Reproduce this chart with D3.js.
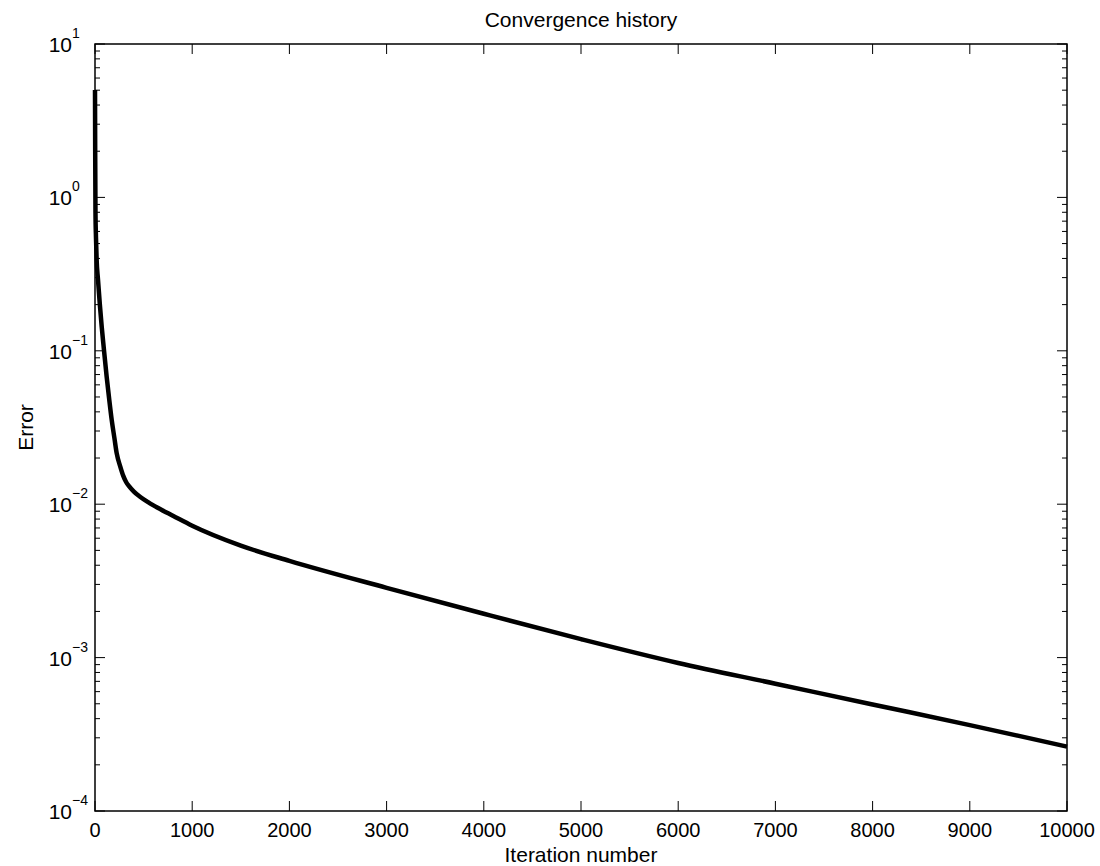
<!DOCTYPE html>
<html>
<head>
<meta charset="utf-8">
<script src="https://cdn.jsdelivr.net/npm/d3@7"></script>
<style>
  html, body { margin: 0; padding: 0; background: #fff; }
  text { font-family: "Liberation Sans", Arial, Helvetica, sans-serif; fill: #000; }
</style>
</head>
<body>
<svg id="chart" width="1100" height="866"></svg>
<script>
// ---- data ----
const iterations = [0, 2, 5, 10, 17, 30, 50, 69, 90, 120, 145, 172, 200, 223, 260, 291, 320, 350, 400, 463, 550, 650, 806, 1000, 1500, 2000, 3000, 4000, 5000, 6000, 7000, 8000, 9000, 10000];
const errors = [5.01, 2.0, 0.794, 0.55, 0.391, 0.295, 0.1995, 0.1436, 0.1047, 0.0678, 0.049, 0.0354, 0.0269, 0.0215, 0.0176, 0.0153, 0.01396, 0.01312, 0.01208, 0.01119, 0.01028, 0.00944, 0.00838, 0.00724, 0.00537, 0.00427, 0.00285, 0.00193, 0.00132, 0.000923, 0.000676, 0.000495, 0.000363, 0.000263];
const xTicks = [0, 1000, 2000, 3000, 4000, 5000, 6000, 7000, 8000, 9000, 10000];
const yExponents = [-4, -3, -2, -1, 0, 1];
const titleText = "Convergence history";
const xLabelText = "Iteration number";
const yLabelText = "Error";

// ---- layout ----
const svg = d3.select("#chart");
const L = 95, R = 1067, T = 44, B = 811;
const x = d3.scaleLinear().domain([0, 10000]).range([L, R]);
const y = d3.scaleLog().domain([1e-4, 10]).range([B, T]);

const g = svg.append("g");

// minor ticks (log)
const minorVals = [];
for (let e = -4; e < 1; e++) for (let m = 2; m <= 9; m++) minorVals.push(m * Math.pow(10, e));

const majLen = 10, minLen = 5;
// y ticks left & right
yExponents.forEach(e => {
  const yy = y(Math.pow(10, e));
  g.append("line").attr("x1", L).attr("x2", L + majLen).attr("y1", yy).attr("y2", yy).attr("stroke", "#000").attr("stroke-width", 1);
  g.append("line").attr("x1", R).attr("x2", R - majLen).attr("y1", yy).attr("y2", yy).attr("stroke", "#000").attr("stroke-width", 1);
  g.append("text").attr("x", 72).attr("y", yy + 8).attr("text-anchor", "end").attr("font-size", 21).text("10");
  g.append("text").attr("x", 72).attr("y", yy - 6).attr("text-anchor", "start").attr("font-size", 14).text(e < 0 ? "\u2212" + (-e) : String(e));
});
minorVals.forEach(v => {
  const yy = y(v);
  g.append("line").attr("x1", L).attr("x2", L + minLen).attr("y1", yy).attr("y2", yy).attr("stroke", "#000").attr("stroke-width", 1);
  g.append("line").attr("x1", R).attr("x2", R - minLen).attr("y1", yy).attr("y2", yy).attr("stroke", "#000").attr("stroke-width", 1);
});

// x ticks bottom & top
xTicks.forEach(v => {
  const xx = x(v);
  g.append("line").attr("x1", xx).attr("x2", xx).attr("y1", B).attr("y2", B - majLen).attr("stroke", "#000").attr("stroke-width", 1);
  g.append("line").attr("x1", xx).attr("x2", xx).attr("y1", T).attr("y2", T + majLen).attr("stroke", "#000").attr("stroke-width", 1);
  g.append("text").attr("x", xx).attr("y", 837).attr("text-anchor", "middle").attr("font-size", 20).text(String(v));
});

// curve
const line = d3.line().x((d, i) => x(iterations[i])).y((d, i) => y(errors[i])).curve(d3.curveMonotoneX);
g.append("path").datum(errors).attr("d", line).attr("fill", "none").attr("stroke", "#000").attr("stroke-width", 4.5).attr("stroke-linejoin", "round");

// box
g.append("rect").attr("x", L).attr("y", T).attr("width", R - L).attr("height", B - T).attr("fill", "none").attr("stroke", "#000").attr("stroke-width", 1.5);

// labels
g.append("text").attr("x", (L + R) / 2).attr("y", 27).attr("text-anchor", "middle").attr("font-size", 21).text(titleText);
g.append("text").attr("x", (L + R) / 2).attr("y", 862).attr("text-anchor", "middle").attr("font-size", 21).text(xLabelText);
g.append("text").attr("transform", `translate(33, ${(T + B) / 2}) rotate(-90)`).attr("text-anchor", "middle").attr("font-size", 21).text(yLabelText);
</script>
</body>
</html>
